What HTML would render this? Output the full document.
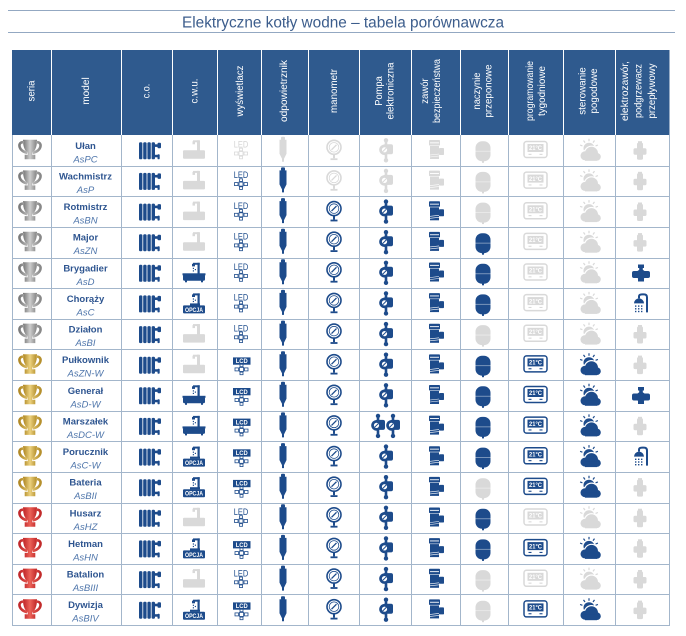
<!DOCTYPE html>
<html><head><meta charset="utf-8"><style>
html,body{margin:0;padding:0;background:#fff;}
svg{display:block;}
.b{color:#1d4b8b}
.g{color:#d9d9d9}
.n{font:bold 9.5px "Liberation Sans",sans-serif;fill:#2e5590;text-anchor:middle}
.c{font:italic 9.5px "Liberation Sans",sans-serif;fill:#4f76ab;text-anchor:middle}
.h{font:10.5px "Liberation Sans",sans-serif;fill:#fff;text-anchor:middle;dominant-baseline:central}
.led{font:9px "Liberation Sans",sans-serif;text-anchor:middle}
.lcd{font:bold 6px "Liberation Sans",sans-serif;fill:#fff;text-anchor:middle}
.op{font:bold 6px "Liberation Sans",sans-serif;fill:#fff;text-anchor:middle}
.t{font:bold 6.3px "Liberation Sans",sans-serif;fill:#fff;text-anchor:middle}
</style></head><body>
<svg width="686" height="636" viewBox="0 0 686 636" xmlns="http://www.w3.org/2000/svg">
<defs>
<linearGradient id="gS" x1="0" x2="1"><stop offset="0" stop-color="#7a7a7a"/><stop offset=".5" stop-color="#cdcdcd"/><stop offset="1" stop-color="#878787"/></linearGradient>
<linearGradient id="gG" x1="0" x2="1"><stop offset="0" stop-color="#b08824"/><stop offset=".5" stop-color="#ecd27f"/><stop offset="1" stop-color="#b58f2c"/></linearGradient>
<linearGradient id="gR" x1="0" x2="1"><stop offset="0" stop-color="#c0272a"/><stop offset=".5" stop-color="#ec6258"/><stop offset="1" stop-color="#c12a2a"/></linearGradient>
<g id="tro">
<path d="M-6.5,-9.5 H6.5 C6.5,-2 4,1.8 1.6,2.4 V5.5 H4.8 V9 H-4.8 V5.5 H-1.6 V2.4 C-4,1.8 -6.5,-2 -6.5,-9.5Z"/>
<path d="M-6,-7.5 C-13,-8.5 -12,1.5 -2.5,3 M6,-7.5 C13,-8.5 12,1.5 2.5,3" fill="none" stroke-width="2.6"/>
</g>
<g id="rad" fill="currentColor">
<rect x="-11" y="-8" width="3.4" height="17" rx="1.3"/>
<rect x="-6.8" y="-8" width="3.4" height="17" rx="1.3"/>
<rect x="-2.6" y="-8" width="3.4" height="17" rx="1.3"/>
<rect x="1.6" y="-8" width="3.4" height="17" rx="1.3"/>
<rect x="5" y="-6" width="3.5" height="2.6"/>
<rect x="7.5" y="-7.5" width="3.5" height="5.5" rx="1"/>
<rect x="5" y="4.5" width="3" height="2.5"/>
<rect x="7.5" y="4" width="2.2" height="5" rx="0.8"/>
</g>
<g id="bath" fill="currentColor">
<rect x="-11" y="1.5" width="22" height="6.5" rx="1.5"/>
<rect x="-11.5" y="0.5" width="23" height="2"/>
<rect x="-9" y="7.5" width="2" height="2"/><rect x="7" y="7.5" width="2" height="2"/>
<rect x="3.5" y="-10" width="2.2" height="11"/>
<rect x="-1" y="-10" width="6.7" height="2"/>
<rect x="-2" y="-9" width="3" height="2.6"/>
<rect x="-1.2" y="-5" width="1.2" height="1.2"/><rect x="-1.2" y="-2.5" width="1.2" height="1.2"/><rect x="0.8" y="-3.8" width="1.2" height="1.2"/>
</g>
<g id="bathg" fill="currentColor">
<rect x="-11" y="0" width="22" height="8.5" rx="1"/>
<rect x="3" y="-10" width="3" height="11"/>
<rect x="-1" y="-10" width="6" height="2"/>
<rect x="-1.5" y="-9" width="2.5" height="3"/>
</g>
<g id="opc" fill="currentColor">
<rect x="-11" y="2" width="22" height="8" rx="1"/>
<rect x="-4" y="0" width="10" height="2.2"/>
<rect x="3.5" y="-10" width="2.2" height="11"/>
<rect x="-1" y="-10" width="6.7" height="2"/>
<rect x="-2" y="-9" width="3" height="2.6"/>
<rect x="-1.2" y="-5" width="1.2" height="1.2"/><rect x="-1.2" y="-2.5" width="1.2" height="1.2"/><rect x="0.8" y="-3.8" width="1.2" height="1.2"/>
</g>
<g id="kp" fill="none" stroke="currentColor" stroke-width="0.8">
<rect x="-2" y="-2" width="4" height="4"/>
<rect x="-6.5" y="-1.5" width="3.5" height="3"/>
<rect x="3" y="-1.5" width="3.5" height="3"/>
<rect x="-1.5" y="-5.3" width="3" height="2.6"/>
<rect x="-1.5" y="2.7" width="3" height="2.6"/>
</g>
<g id="odp" fill="currentColor">
<rect x="-2" y="-13" width="4" height="3.5" rx="1"/>
<path d="M-3.5,-10 H3.5 V4 L1,9 V12 H-1 V9 L-3.5,4Z"/>
</g>
<g id="man">
<circle cx="0" cy="-3" r="7" fill="#fff" stroke="currentColor" stroke-width="1.6"/>
<circle cx="0" cy="-3" r="4.8" fill="none" stroke="currentColor" stroke-width="0.8"/>
<path d="M-2.5,-0.5 L2.5,-5.5" stroke="currentColor" stroke-width="1.3"/>
<rect x="-1" y="4" width="2" height="4" fill="currentColor"/>
<rect x="-3.5" y="8" width="7" height="1.8" fill="currentColor"/>
</g>
<g id="pump" fill="currentColor">
<circle cx="0" cy="-10" r="2.2"/>
<rect x="-1.3" y="-10" width="2.6" height="20"/>
<circle cx="0" cy="10" r="2.2"/>
<rect x="-3" y="-6" width="10" height="10" rx="2"/>
<circle cx="-1.5" cy="-0.5" r="5.3"/>
<circle cx="-1.5" cy="-0.5" r="2.6" fill="#fff"/>
<path d="M-3.3,1.3 L0.3,-2.3" stroke="currentColor" stroke-width="1"/>
</g>
<g id="zaw" fill="currentColor">
<rect x="-7" y="-11" width="11" height="5.5" rx="0.8"/>
<rect x="-6" y="-8.6" width="9" height="0.9" fill="#fff"/>
<rect x="-6" y="-5" width="9" height="13"/>
<rect x="3" y="-3" width="5" height="7" rx="0.8"/>
<path d="M-6,4 L3,3 M-6,6 L3,5" stroke="#fff" stroke-width="0.6"/>
</g>
<g id="nac" fill="currentColor">
<rect x="-7.5" y="-10" width="15" height="20" rx="6.5"/>
<rect x="-1" y="9" width="2" height="2.5"/>
<rect x="-7.5" y="-0.5" width="15" height="0.9" fill="#fff" opacity=".45"/>
</g>
<g id="prog">
<rect x="-11.5" y="-8" width="23" height="16" rx="2.5" fill="#fff" stroke="currentColor" stroke-width="1.5"/>
<rect x="-8" y="-5.5" width="16" height="8" fill="currentColor"/>
<rect x="-7" y="4.3" width="3" height="1.1" fill="currentColor"/>
<rect x="4" y="4.3" width="3" height="1.1" fill="currentColor"/>
</g>
<g id="ster" fill="currentColor">
<circle cx="-1" cy="-3" r="5.5"/>
<path d="M-7.6,-5.4 L-9.9,-6.3 M-5,-8.7 L-6.5,-10.8 M-1,-10 V-12.5 M3,-8.7 L4.5,-10.8 M5.6,-5.4 L7.9,-6.3" stroke="currentColor" stroke-width="1.2"/>
<g stroke="#fff" stroke-width="2.4" fill="#fff">
<circle cx="-5" cy="4.5" r="4.5"/><circle cx="1.5" cy="2" r="6.5"/><circle cx="7" cy="5.5" r="3.8"/><rect x="-5" y="4" width="12" height="5.5"/>
</g>
<circle cx="-5" cy="4.5" r="4.5"/><circle cx="1.5" cy="2" r="6.5"/><circle cx="7" cy="5.5" r="3.8"/><rect x="-5" y="4" width="12" height="5.5"/>
</g>
<g id="cross" fill="currentColor">
<rect x="-3" y="-8.5" width="6" height="17" rx="1.5"/>
<rect x="-6.5" y="-3" width="13" height="6.5" rx="1.5"/>
<rect x="-2" y="-10" width="4" height="2"/>
</g>
<g id="valve" fill="currentColor">
<rect x="-3" y="-9" width="6" height="3.5"/>
<rect x="-1.8" y="-6" width="3.6" height="3"/>
<rect x="-9" y="-2.5" width="18" height="7" rx="2"/>
<circle cx="0" cy="1" r="5"/>
<rect x="-3" y="5" width="6" height="3"/>
</g>
<g id="shower" fill="currentColor">
<path d="M-7,0 A5,5 0 0 1 3,0 Z"/>
<path d="M-2,-5 V-7 Q-2,-9 1,-9 H3 Q6,-9 6,-6 V9" fill="none" stroke="currentColor" stroke-width="2"/>
<rect x="-6" y="2" width="1.4" height="1.4"/><rect x="-3" y="2" width="1.4" height="1.4"/><rect x="0" y="2" width="1.4" height="1.4"/>
<rect x="-6" y="4.7" width="1.4" height="1.4"/><rect x="-3" y="4.7" width="1.4" height="1.4"/><rect x="0" y="4.7" width="1.4" height="1.4"/>
<rect x="-6" y="7.4" width="1.4" height="1.4"/><rect x="-3" y="7.4" width="1.4" height="1.4"/><rect x="0" y="7.4" width="1.4" height="1.4"/>
</g>
</defs>

<!-- Title -->
<line x1="8" y1="10.5" x2="675" y2="10.5" stroke="#93a8c2" stroke-width="1"/>
<line x1="8" y1="32.5" x2="675" y2="32.5" stroke="#93a8c2" stroke-width="1"/>
<text x="343" y="27.5" font-family="Liberation Sans, sans-serif" font-size="15.5" fill="#3c5d8c" text-anchor="middle" textLength="322" lengthAdjust="spacingAndGlyphs">Elektryczne kotły wodne – tabela porównawcza</text>

<!-- Header -->
<rect x="12" y="50" width="657.5" height="85" fill="#2f5a8e"/>
<g stroke="#fff" stroke-width="1">
<line x1="51.5" y1="50" x2="51.5" y2="135"/><line x1="121.5" y1="50" x2="121.5" y2="135"/><line x1="172.5" y1="50" x2="172.5" y2="135"/><line x1="217.5" y1="50" x2="217.5" y2="135"/><line x1="261.5" y1="50" x2="261.5" y2="135"/><line x1="308.5" y1="50" x2="308.5" y2="135"/><line x1="359.5" y1="50" x2="359.5" y2="135"/><line x1="411.5" y1="50" x2="411.5" y2="135"/><line x1="460.5" y1="50" x2="460.5" y2="135"/><line x1="508.5" y1="50" x2="508.5" y2="135"/><line x1="563.5" y1="50" x2="563.5" y2="135"/><line x1="615.5" y1="50" x2="615.5" y2="135"/>
</g>
<g>
<text class="h" x="31.5" y="91" transform="rotate(-90 31.5 91)" textLength="21" lengthAdjust="spacingAndGlyphs">seria</text>
<text class="h" x="86" y="91" transform="rotate(-90 86 91)" textLength="27.5" lengthAdjust="spacingAndGlyphs">model</text>
<text class="h" x="146.5" y="91" transform="rotate(-90 146.5 91)" textLength="14.5" lengthAdjust="spacingAndGlyphs">c.o.</text>
<text class="h" x="194.5" y="91" transform="rotate(-90 194.5 91)" textLength="25" lengthAdjust="spacingAndGlyphs">c.w.u.</text>
<text class="h" x="240" y="91" transform="rotate(-90 240 91)" textLength="51" lengthAdjust="spacingAndGlyphs">wyświetlacz</text>
<text class="h" x="284" y="91" transform="rotate(-90 284 91)" textLength="62" lengthAdjust="spacingAndGlyphs">odpowietrznik</text>
<text class="h" x="334" y="91" transform="rotate(-90 334 91)" textLength="44" lengthAdjust="spacingAndGlyphs">manometr</text>
<text class="h" x="379" y="91" transform="rotate(-90 379 91)" textLength="29.5" lengthAdjust="spacingAndGlyphs">Pompa</text>
<text class="h" x="390.5" y="91" transform="rotate(-90 390.5 91)" textLength="57" lengthAdjust="spacingAndGlyphs">elektroniczna</text>
<text class="h" x="425" y="91" transform="rotate(-90 425 91)" textLength="25.5" lengthAdjust="spacingAndGlyphs">zawór</text>
<text class="h" x="437" y="91" transform="rotate(-90 437 91)" textLength="64" lengthAdjust="spacingAndGlyphs">bezpieczeństwa</text>
<text class="h" x="477" y="91" transform="rotate(-90 477 91)" textLength="37" lengthAdjust="spacingAndGlyphs">naczynie</text>
<text class="h" x="488.5" y="91" transform="rotate(-90 488.5 91)" textLength="53" lengthAdjust="spacingAndGlyphs">przeponowe</text>
<text class="h" x="530" y="91" transform="rotate(-90 530 91)" textLength="60" lengthAdjust="spacingAndGlyphs">programowanie</text>
<text class="h" x="542" y="91" transform="rotate(-90 542 91)" textLength="50" lengthAdjust="spacingAndGlyphs">tygodniowe</text>
<text class="h" x="582.5" y="91" transform="rotate(-90 582.5 91)" textLength="47.5" lengthAdjust="spacingAndGlyphs">sterowanie</text>
<text class="h" x="594" y="91" transform="rotate(-90 594 91)" textLength="45" lengthAdjust="spacingAndGlyphs">pogodowe</text>
<text class="h" x="625" y="91" transform="rotate(-90 625 91)" textLength="60" lengthAdjust="spacingAndGlyphs">elektrozawór,</text>
<text class="h" x="638.5" y="91" transform="rotate(-90 638.5 91)" textLength="54" lengthAdjust="spacingAndGlyphs">podgrzewacz</text>
<text class="h" x="652" y="91" transform="rotate(-90 652 91)" textLength="55" lengthAdjust="spacingAndGlyphs">przepływowy</text>
</g>

<!-- Grid -->
<g stroke="#a3b6cb" stroke-width="1">
<line x1="12.5" y1="135" x2="12.5" y2="625.5"/><line x1="51.5" y1="135" x2="51.5" y2="625.5"/><line x1="121.5" y1="135" x2="121.5" y2="625.5"/><line x1="172.5" y1="135" x2="172.5" y2="625.5"/><line x1="217.5" y1="135" x2="217.5" y2="625.5"/><line x1="261.5" y1="135" x2="261.5" y2="625.5"/><line x1="308.5" y1="135" x2="308.5" y2="625.5"/><line x1="359.5" y1="135" x2="359.5" y2="625.5"/><line x1="411.5" y1="135" x2="411.5" y2="625.5"/><line x1="460.5" y1="135" x2="460.5" y2="625.5"/><line x1="508.5" y1="135" x2="508.5" y2="625.5"/><line x1="563.5" y1="135" x2="563.5" y2="625.5"/><line x1="615.5" y1="135" x2="615.5" y2="625.5"/><line x1="669.5" y1="135" x2="669.5" y2="625.5"/>
<line x1="12" y1="166.5" x2="670" y2="166.5"/><line x1="12" y1="196.5" x2="670" y2="196.5"/><line x1="12" y1="227.5" x2="670" y2="227.5"/><line x1="12" y1="258.5" x2="670" y2="258.5"/><line x1="12" y1="288.5" x2="670" y2="288.5"/><line x1="12" y1="319.5" x2="670" y2="319.5"/><line x1="12" y1="349.5" x2="670" y2="349.5"/><line x1="12" y1="380.5" x2="670" y2="380.5"/><line x1="12" y1="411.5" x2="670" y2="411.5"/><line x1="12" y1="441.5" x2="670" y2="441.5"/><line x1="12" y1="472.5" x2="670" y2="472.5"/><line x1="12" y1="503.5" x2="670" y2="503.5"/><line x1="12" y1="533.5" x2="670" y2="533.5"/><line x1="12" y1="564.5" x2="670" y2="564.5"/><line x1="12" y1="594.5" x2="670" y2="594.5"/><line x1="12" y1="625.5" x2="670" y2="625.5"/>
</g>

<!-- Trophies -->
<use href="#tro" x="30" y="149.8" fill="url(#gS)" stroke="url(#gS)"/>
<use href="#tro" x="30" y="180.4" fill="url(#gS)" stroke="url(#gS)"/>
<use href="#tro" x="30" y="211.1" fill="url(#gS)" stroke="url(#gS)"/>
<use href="#tro" x="30" y="241.7" fill="url(#gS)" stroke="url(#gS)"/>
<use href="#tro" x="30" y="272.3" fill="url(#gS)" stroke="url(#gS)"/>
<use href="#tro" x="30" y="302.9" fill="url(#gS)" stroke="url(#gS)"/>
<use href="#tro" x="30" y="333.6" fill="url(#gS)" stroke="url(#gS)"/>
<use href="#tro" x="30" y="364.2" fill="url(#gG)" stroke="url(#gG)"/>
<use href="#tro" x="30" y="394.8" fill="url(#gG)" stroke="url(#gG)"/>
<use href="#tro" x="30" y="425.4" fill="url(#gG)" stroke="url(#gG)"/>
<use href="#tro" x="30" y="456.1" fill="url(#gG)" stroke="url(#gG)"/>
<use href="#tro" x="30" y="486.7" fill="url(#gG)" stroke="url(#gG)"/>
<use href="#tro" x="30" y="517.3" fill="url(#gR)" stroke="url(#gR)"/>
<use href="#tro" x="30" y="547.9" fill="url(#gR)" stroke="url(#gR)"/>
<use href="#tro" x="30" y="578.6" fill="url(#gR)" stroke="url(#gR)"/>
<use href="#tro" x="30" y="609.2" fill="url(#gR)" stroke="url(#gR)"/>

<!-- Models -->
<text class="n" x="85.5" y="148.8">Ułan</text><text class="c" x="85.5" y="162.3">AsPC</text>
<text class="n" x="85.5" y="179.4">Wachmistrz</text><text class="c" x="85.5" y="192.9">AsP</text>
<text class="n" x="85.5" y="210.1">Rotmistrz</text><text class="c" x="85.5" y="223.6">AsBN</text>
<text class="n" x="85.5" y="240.7">Major</text><text class="c" x="85.5" y="254.2">AsZN</text>
<text class="n" x="85.5" y="271.3">Brygadier</text><text class="c" x="85.5" y="284.8">AsD</text>
<text class="n" x="85.5" y="301.9">Chorąży</text><text class="c" x="85.5" y="315.4">AsC</text>
<text class="n" x="85.5" y="332.6">Działon</text><text class="c" x="85.5" y="346.1">AsBI</text>
<text class="n" x="85.5" y="363.2">Pułkownik</text><text class="c" x="85.5" y="376.7">AsZN-W</text>
<text class="n" x="85.5" y="393.8">Generał</text><text class="c" x="85.5" y="407.3">AsD-W</text>
<text class="n" x="85.5" y="424.4">Marszałek</text><text class="c" x="85.5" y="437.9">AsDC-W</text>
<text class="n" x="85.5" y="455.1">Porucznik</text><text class="c" x="85.5" y="468.6">AsC-W</text>
<text class="n" x="85.5" y="485.7">Bateria</text><text class="c" x="85.5" y="499.2">AsBII</text>
<text class="n" x="85.5" y="516.3">Husarz</text><text class="c" x="85.5" y="529.8">AsHZ</text>
<text class="n" x="85.5" y="546.9">Hetman</text><text class="c" x="85.5" y="560.4">AsHN</text>
<text class="n" x="85.5" y="577.6">Batalion</text><text class="c" x="85.5" y="591.1">AsBIII</text>
<text class="n" x="85.5" y="608.2">Dywizja</text><text class="c" x="85.5" y="621.7">AsBIV</text>

<!-- c.o. radiators -->
<use href="#rad" class="b" x="150" y="150.3"/><use href="#rad" class="b" x="150" y="180.9"/><use href="#rad" class="b" x="150" y="211.6"/><use href="#rad" class="b" x="150" y="242.2"/><use href="#rad" class="b" x="150" y="272.8"/><use href="#rad" class="b" x="150" y="303.4"/><use href="#rad" class="b" x="150" y="334.1"/><use href="#rad" class="b" x="150" y="364.7"/><use href="#rad" class="b" x="150" y="395.3"/><use href="#rad" class="b" x="150" y="425.9"/><use href="#rad" class="b" x="150" y="456.6"/><use href="#rad" class="b" x="150" y="487.2"/><use href="#rad" class="b" x="150" y="517.8"/><use href="#rad" class="b" x="150" y="548.4"/><use href="#rad" class="b" x="150" y="579.1"/><use href="#rad" class="b" x="150" y="609.7"/>

<!-- c.w.u. -->
<use href="#bathg" class="g" x="194" y="150.3"/>
<use href="#bathg" class="g" x="194" y="180.9"/>
<use href="#bathg" class="g" x="194" y="211.6"/>
<use href="#bathg" class="g" x="194" y="242.2"/>
<use href="#bath" class="b" x="194" y="272.8"/>
<use href="#opc" class="b" x="194" y="303.4"/><text class="op" x="194" y="311.8" textLength="18" lengthAdjust="spacingAndGlyphs">OPCJA</text>
<use href="#bathg" class="g" x="194" y="334.1"/>
<use href="#bathg" class="g" x="194" y="364.7"/>
<use href="#bath" class="b" x="194" y="395.3"/>
<use href="#bath" class="b" x="194" y="425.9"/>
<use href="#opc" class="b" x="194" y="456.6"/><text class="op" x="194" y="465" textLength="18" lengthAdjust="spacingAndGlyphs">OPCJA</text>
<use href="#opc" class="b" x="194" y="487.2"/><text class="op" x="194" y="495.6" textLength="18" lengthAdjust="spacingAndGlyphs">OPCJA</text>
<use href="#bathg" class="g" x="194" y="517.8"/>
<use href="#opc" class="b" x="194" y="548.4"/><text class="op" x="194" y="556.8" textLength="18" lengthAdjust="spacingAndGlyphs">OPCJA</text>
<use href="#bathg" class="g" x="194" y="579.1"/>
<use href="#opc" class="b" x="194" y="609.7"/><text class="op" x="194" y="618.1" textLength="18" lengthAdjust="spacingAndGlyphs">OPCJA</text>

<!-- display -->
<text class="led" x="241" y="147.5" fill="#d4d4d4" textLength="14.5" lengthAdjust="spacingAndGlyphs">LED</text><use href="#kp" class="g" x="241" y="153.5"/>
<text class="led" x="241" y="178.1" fill="#1d4b8b" textLength="14.5" lengthAdjust="spacingAndGlyphs">LED</text><use href="#kp" class="b" x="241" y="184.1"/>
<text class="led" x="241" y="208.8" fill="#1d4b8b" textLength="14.5" lengthAdjust="spacingAndGlyphs">LED</text><use href="#kp" class="b" x="241" y="214.8"/>
<text class="led" x="241" y="239.4" fill="#1d4b8b" textLength="14.5" lengthAdjust="spacingAndGlyphs">LED</text><use href="#kp" class="b" x="241" y="245.4"/>
<text class="led" x="241" y="270" fill="#1d4b8b" textLength="14.5" lengthAdjust="spacingAndGlyphs">LED</text><use href="#kp" class="b" x="241" y="276"/>
<text class="led" x="241" y="300.6" fill="#1d4b8b" textLength="14.5" lengthAdjust="spacingAndGlyphs">LED</text><use href="#kp" class="b" x="241" y="306.6"/>
<text class="led" x="241" y="331.3" fill="#1d4b8b" textLength="14.5" lengthAdjust="spacingAndGlyphs">LED</text><use href="#kp" class="b" x="241" y="337.3"/>
<rect x="233" y="357.4" width="17.5" height="7.3" fill="#1d4b8b"/><text class="lcd" x="241.7" y="363.2" textLength="12" lengthAdjust="spacingAndGlyphs">LCD</text><use href="#kp" class="b" x="241.5" y="369.4"/>
<rect x="233" y="388" width="17.5" height="7.3" fill="#1d4b8b"/><text class="lcd" x="241.7" y="393.8" textLength="12" lengthAdjust="spacingAndGlyphs">LCD</text><use href="#kp" class="b" x="241.5" y="400"/>
<rect x="233" y="418.6" width="17.5" height="7.3" fill="#1d4b8b"/><text class="lcd" x="241.7" y="424.4" textLength="12" lengthAdjust="spacingAndGlyphs">LCD</text><use href="#kp" class="b" x="241.5" y="430.6"/>
<rect x="233" y="449.3" width="17.5" height="7.3" fill="#1d4b8b"/><text class="lcd" x="241.7" y="455.1" textLength="12" lengthAdjust="spacingAndGlyphs">LCD</text><use href="#kp" class="b" x="241.5" y="461.3"/>
<rect x="233" y="479.9" width="17.5" height="7.3" fill="#1d4b8b"/><text class="lcd" x="241.7" y="485.7" textLength="12" lengthAdjust="spacingAndGlyphs">LCD</text><use href="#kp" class="b" x="241.5" y="491.9"/>
<text class="led" x="241" y="515" fill="#1d4b8b" textLength="14.5" lengthAdjust="spacingAndGlyphs">LED</text><use href="#kp" class="b" x="241" y="521"/>
<rect x="233" y="541.1" width="17.5" height="7.3" fill="#1d4b8b"/><text class="lcd" x="241.7" y="546.9" textLength="12" lengthAdjust="spacingAndGlyphs">LCD</text><use href="#kp" class="b" x="241.5" y="553.1"/>
<text class="led" x="241" y="576.3" fill="#1d4b8b" textLength="14.5" lengthAdjust="spacingAndGlyphs">LED</text><use href="#kp" class="b" x="241" y="582.3"/>
<rect x="233" y="602.4" width="17.5" height="7.3" fill="#1d4b8b"/><text class="lcd" x="241.7" y="608.2" textLength="12" lengthAdjust="spacingAndGlyphs">LCD</text><use href="#kp" class="b" x="241.5" y="614.4"/>

<!-- odpowietrznik -->
<use href="#odp" class="g" x="283" y="149.8"/>
<use href="#odp" class="b" x="283" y="180.4"/><use href="#odp" class="b" x="283" y="211.1"/><use href="#odp" class="b" x="283" y="241.7"/><use href="#odp" class="b" x="283" y="272.3"/><use href="#odp" class="b" x="283" y="302.9"/><use href="#odp" class="b" x="283" y="333.6"/><use href="#odp" class="b" x="283" y="364.2"/><use href="#odp" class="b" x="283" y="394.8"/><use href="#odp" class="b" x="283" y="425.4"/><use href="#odp" class="b" x="283" y="456.1"/><use href="#odp" class="b" x="283" y="486.7"/><use href="#odp" class="b" x="283" y="517.3"/><use href="#odp" class="b" x="283" y="547.9"/><use href="#odp" class="b" x="283" y="578.6"/><use href="#odp" class="b" x="283" y="609.2"/>

<!-- manometr -->
<use href="#man" class="g" x="334" y="150.3"/><use href="#man" class="g" x="334" y="180.9"/>
<use href="#man" class="b" x="334" y="211.6"/><use href="#man" class="b" x="334" y="242.2"/><use href="#man" class="b" x="334" y="272.8"/><use href="#man" class="b" x="334" y="303.4"/><use href="#man" class="b" x="334" y="334.1"/><use href="#man" class="b" x="334" y="364.7"/><use href="#man" class="b" x="334" y="395.3"/><use href="#man" class="b" x="334" y="425.9"/><use href="#man" class="b" x="334" y="456.6"/><use href="#man" class="b" x="334" y="487.2"/><use href="#man" class="b" x="334" y="517.8"/><use href="#man" class="b" x="334" y="548.4"/><use href="#man" class="b" x="334" y="579.1"/><use href="#man" class="b" x="334" y="609.7"/>

<!-- pompa -->
<use href="#pump" class="g" x="386" y="150.3"/><use href="#pump" class="g" x="386" y="180.9"/>
<use href="#pump" class="b" x="386" y="211.6"/><use href="#pump" class="b" x="386" y="242.2"/><use href="#pump" class="b" x="386" y="272.8"/><use href="#pump" class="b" x="386" y="303.4"/><use href="#pump" class="b" x="386" y="334.1"/><use href="#pump" class="b" x="386" y="364.7"/><use href="#pump" class="b" x="386" y="395.3"/>
<use href="#pump" class="b" x="378" y="425.9"/><use href="#pump" class="b" x="393" y="425.9"/>
<use href="#pump" class="b" x="386" y="456.6"/><use href="#pump" class="b" x="386" y="487.2"/><use href="#pump" class="b" x="386" y="517.8"/><use href="#pump" class="b" x="386" y="548.4"/><use href="#pump" class="b" x="386" y="579.1"/><use href="#pump" class="b" x="386" y="609.7"/>

<!-- zawor -->
<use href="#zaw" class="g" x="436" y="151"/><use href="#zaw" class="g" x="436" y="181.6"/>
<use href="#zaw" class="b" x="436" y="212.3"/><use href="#zaw" class="b" x="436" y="242.9"/><use href="#zaw" class="b" x="436" y="273.5"/><use href="#zaw" class="b" x="436" y="304.1"/><use href="#zaw" class="b" x="436" y="334.8"/><use href="#zaw" class="b" x="436" y="365.4"/><use href="#zaw" class="b" x="436" y="396"/><use href="#zaw" class="b" x="436" y="426.6"/><use href="#zaw" class="b" x="436" y="457.3"/><use href="#zaw" class="b" x="436" y="487.9"/><use href="#zaw" class="b" x="436" y="518.5"/><use href="#zaw" class="b" x="436" y="549.1"/><use href="#zaw" class="b" x="436" y="579.8"/><use href="#zaw" class="b" x="436" y="610.4"/>

<!-- naczynie -->
<use href="#nac" class="g" x="483" y="151.3"/><use href="#nac" class="g" x="483" y="181.9"/><use href="#nac" class="g" x="483" y="212.6"/>
<use href="#nac" class="b" x="483" y="243.2"/><use href="#nac" class="b" x="483" y="273.8"/><use href="#nac" class="b" x="483" y="304.4"/>
<use href="#nac" class="g" x="483" y="335.1"/>
<use href="#nac" class="b" x="483" y="365.7"/><use href="#nac" class="b" x="483" y="396.3"/><use href="#nac" class="b" x="483" y="426.9"/><use href="#nac" class="b" x="483" y="457.6"/>
<use href="#nac" class="g" x="483" y="488.2"/>
<use href="#nac" class="b" x="483" y="518.8"/><use href="#nac" class="b" x="483" y="549.4"/>
<use href="#nac" class="g" x="483" y="580.1"/><use href="#nac" class="g" x="483" y="610.7"/>

<!-- programowanie -->
<g>
<use href="#prog" class="g" x="535.5" y="149.5"/><text class="t" x="535.5" y="150.2" textLength="13" lengthAdjust="spacingAndGlyphs">21°C</text>
<use href="#prog" class="g" x="535.5" y="180.1"/><text class="t" x="535.5" y="180.8" textLength="13" lengthAdjust="spacingAndGlyphs">21°C</text>
<use href="#prog" class="g" x="535.5" y="210.8"/><text class="t" x="535.5" y="211.5" textLength="13" lengthAdjust="spacingAndGlyphs">21°C</text>
<use href="#prog" class="g" x="535.5" y="241.4"/><text class="t" x="535.5" y="242.1" textLength="13" lengthAdjust="spacingAndGlyphs">21°C</text>
<use href="#prog" class="g" x="535.5" y="272"/><text class="t" x="535.5" y="272.7" textLength="13" lengthAdjust="spacingAndGlyphs">21°C</text>
<use href="#prog" class="g" x="535.5" y="302.6"/><text class="t" x="535.5" y="303.3" textLength="13" lengthAdjust="spacingAndGlyphs">21°C</text>
<use href="#prog" class="g" x="535.5" y="333.3"/><text class="t" x="535.5" y="334" textLength="13" lengthAdjust="spacingAndGlyphs">21°C</text>
<use href="#prog" class="b" x="535.5" y="363.9"/><text class="t" x="535.5" y="364.6" textLength="13" lengthAdjust="spacingAndGlyphs">21°C</text>
<use href="#prog" class="b" x="535.5" y="394.5"/><text class="t" x="535.5" y="395.2" textLength="13" lengthAdjust="spacingAndGlyphs">21°C</text>
<use href="#prog" class="b" x="535.5" y="425.1"/><text class="t" x="535.5" y="425.8" textLength="13" lengthAdjust="spacingAndGlyphs">21°C</text>
<use href="#prog" class="b" x="535.5" y="455.8"/><text class="t" x="535.5" y="456.5" textLength="13" lengthAdjust="spacingAndGlyphs">21°C</text>
<use href="#prog" class="b" x="535.5" y="486.4"/><text class="t" x="535.5" y="487.1" textLength="13" lengthAdjust="spacingAndGlyphs">21°C</text>
<use href="#prog" class="g" x="535.5" y="517"/><text class="t" x="535.5" y="517.7" textLength="13" lengthAdjust="spacingAndGlyphs">21°C</text>
<use href="#prog" class="b" x="535.5" y="547.6"/><text class="t" x="535.5" y="548.3" textLength="13" lengthAdjust="spacingAndGlyphs">21°C</text>
<use href="#prog" class="g" x="535.5" y="578.3"/><text class="t" x="535.5" y="579" textLength="13" lengthAdjust="spacingAndGlyphs">21°C</text>
<use href="#prog" class="b" x="535.5" y="608.9"/><text class="t" x="535.5" y="609.6" textLength="13" lengthAdjust="spacingAndGlyphs">21°C</text>
</g>

<!-- sterowanie -->
<use href="#ster" class="g" x="590" y="151.3"/><use href="#ster" class="g" x="590" y="181.9"/><use href="#ster" class="g" x="590" y="212.6"/><use href="#ster" class="g" x="590" y="243.2"/><use href="#ster" class="g" x="590" y="273.8"/><use href="#ster" class="g" x="590" y="304.4"/><use href="#ster" class="g" x="590" y="335.1"/>
<use href="#ster" class="b" x="590" y="365.7"/><use href="#ster" class="b" x="590" y="396.3"/><use href="#ster" class="b" x="590" y="426.9"/><use href="#ster" class="b" x="590" y="457.6"/><use href="#ster" class="b" x="590" y="488.2"/>
<use href="#ster" class="g" x="590" y="518.8"/><use href="#ster" class="b" x="590" y="549.4"/><use href="#ster" class="g" x="590" y="580.1"/><use href="#ster" class="b" x="590" y="610.7"/>

<!-- elektrozawor -->
<use href="#cross" class="g" x="640" y="151.2"/>
<use href="#cross" class="g" x="640" y="181.8"/>
<use href="#cross" class="g" x="640" y="212.5"/>
<use href="#cross" class="g" x="640" y="243.1"/>
<use href="#valve" class="b" x="641" y="273.5"/>
<use href="#shower" class="b" x="641" y="303.4"/>
<use href="#cross" class="g" x="640" y="335"/>
<use href="#cross" class="g" x="640" y="365.6"/>
<use href="#valve" class="b" x="641" y="396"/>
<use href="#cross" class="g" x="640" y="426.8"/>
<use href="#shower" class="b" x="641" y="456.6"/>
<use href="#cross" class="g" x="640" y="488.1"/>
<use href="#cross" class="g" x="640" y="518.7"/>
<use href="#cross" class="g" x="640" y="549.3"/>
<use href="#cross" class="g" x="640" y="580"/>
<use href="#cross" class="g" x="640" y="610.6"/>
</svg>
</body></html>
